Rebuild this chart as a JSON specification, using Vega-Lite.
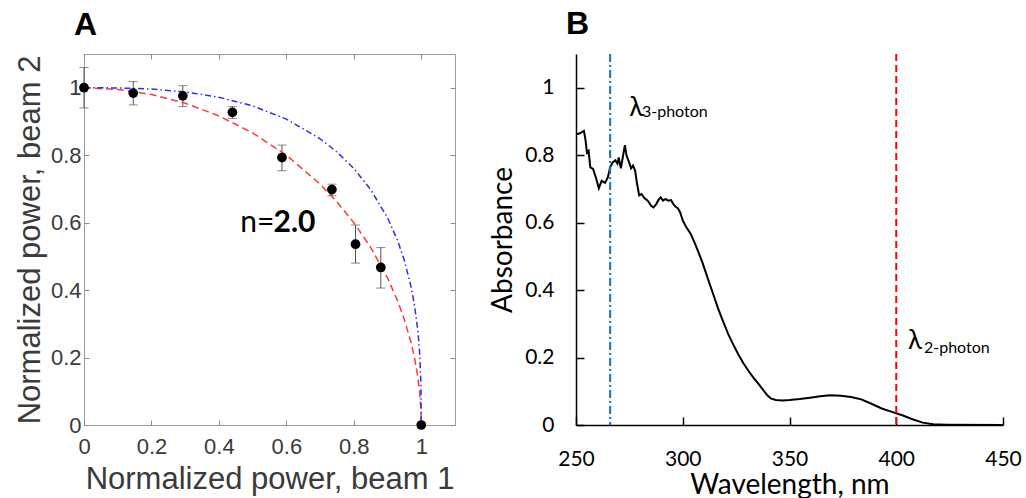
{
  "$schema": "https://vega.github.io/schema/vega-lite/v6.json",
  "background": "white",
  "padding": {"left": 13, "top": 8, "right": 5, "bottom": 0},
  "spacing": 33,
  "config": {"axis": {"grid": false}},
  "datasets": {
    "pts": [
      {"x": 0, "y": 1, "lo": 0.94, "hi": 1.06},
      {"x": 0.146, "y": 0.984, "lo": 0.949, "hi": 1.018},
      {"x": 0.293, "y": 0.976, "lo": 0.944, "hi": 1.006},
      {"x": 0.44, "y": 0.927, "lo": 0.909, "hi": 0.944},
      {"x": 0.587, "y": 0.793, "lo": 0.754, "hi": 0.83},
      {"x": 0.735, "y": 0.698, "lo": 0.68, "hi": 0.714},
      {"x": 0.805, "y": 0.536, "lo": 0.48, "hi": 0.593},
      {"x": 0.88, "y": 0.467, "lo": 0.406, "hi": 0.526},
      {"x": 1, "y": 0}
    ],
    "circ": [
      {"x": 0, "y": 1}, {"x": 0.1, "y": 0.99499}, {"x": 0.2, "y": 0.9798}, {"x": 0.3, "y": 0.95394},
      {"x": 0.4, "y": 0.91652}, {"x": 0.5, "y": 0.86603}, {"x": 0.6, "y": 0.8}, {"x": 0.7, "y": 0.71414},
      {"x": 0.75, "y": 0.66144}, {"x": 0.8, "y": 0.6}, {"x": 0.85, "y": 0.52678}, {"x": 0.9, "y": 0.43589},
      {"x": 0.93, "y": 0.36756}, {"x": 0.95, "y": 0.31225}, {"x": 0.97, "y": 0.2431}, {"x": 0.98, "y": 0.199},
      {"x": 0.99, "y": 0.14107}, {"x": 0.995, "y": 0.09987}, {"x": 0.999, "y": 0.04471}, {"x": 1, "y": 0}
    ],
    "sup": [
      {"x": 0, "y": 1}, {"x": 0.1, "y": 0.99943}, {"x": 0.2, "y": 0.99604}, {"x": 0.3, "y": 0.9876},
      {"x": 0.4, "y": 0.97183}, {"x": 0.5, "y": 0.94614}, {"x": 0.6, "y": 0.90696}, {"x": 0.7, "y": 0.84868},
      {"x": 0.75, "y": 0.80937}, {"x": 0.8, "y": 0.76053}, {"x": 0.85, "y": 0.6981}, {"x": 0.9, "y": 0.61424},
      {"x": 0.93, "y": 0.54618}, {"x": 0.95, "y": 0.48754}, {"x": 0.97, "y": 0.4089}, {"x": 0.98, "y": 0.35491},
      {"x": 0.99, "y": 0.27799}, {"x": 0.995, "y": 0.2174}, {"x": 0.999, "y": 0.12253}, {"x": 1, "y": 0}
    ],
    "abs": [
      {"w": 250, "a": 0.862}, {"w": 251.6, "a": 0.864}, {"w": 253.7, "a": 0.872}, {"w": 254.5, "a": 0.843},
      {"w": 255.1, "a": 0.808}, {"w": 255.9, "a": 0.813}, {"w": 256.7, "a": 0.764}, {"w": 258, "a": 0.759},
      {"w": 259.3, "a": 0.734}, {"w": 260.7, "a": 0.702}, {"w": 262, "a": 0.724}, {"w": 263.6, "a": 0.718},
      {"w": 264.9, "a": 0.734}, {"w": 266, "a": 0.764}, {"w": 267.1, "a": 0.778}, {"w": 268.4, "a": 0.785},
      {"w": 269.4, "a": 0.775}, {"w": 270, "a": 0.793}, {"w": 271, "a": 0.761}, {"w": 271.9, "a": 0.793},
      {"w": 272.9, "a": 0.83}, {"w": 273.7, "a": 0.798}, {"w": 274.8, "a": 0.78}, {"w": 275.8, "a": 0.761},
      {"w": 276.7, "a": 0.769}, {"w": 277.7, "a": 0.754}, {"w": 278.5, "a": 0.719}, {"w": 279.6, "a": 0.681},
      {"w": 280.7, "a": 0.685}, {"w": 282, "a": 0.673}, {"w": 283.6, "a": 0.665}, {"w": 285.2, "a": 0.65},
      {"w": 286.3, "a": 0.645}, {"w": 287.6, "a": 0.655}, {"w": 288.7, "a": 0.668}, {"w": 289.7, "a": 0.675},
      {"w": 290.8, "a": 0.665}, {"w": 291.9, "a": 0.67}, {"w": 293.2, "a": 0.665}, {"w": 294.5, "a": 0.667},
      {"w": 295.6, "a": 0.655}, {"w": 296.7, "a": 0.647}, {"w": 297.7, "a": 0.643}, {"w": 298.8, "a": 0.63},
      {"w": 300.1, "a": 0.605}, {"w": 301.7, "a": 0.586}, {"w": 303.6, "a": 0.568}, {"w": 305.2, "a": 0.546},
      {"w": 307.1, "a": 0.516}, {"w": 309.2, "a": 0.482}, {"w": 311.6, "a": 0.437}, {"w": 314, "a": 0.393},
      {"w": 316.4, "a": 0.348}, {"w": 318.8, "a": 0.309}, {"w": 321.2, "a": 0.271}, {"w": 323.6, "a": 0.239},
      {"w": 326, "a": 0.21}, {"w": 328.4, "a": 0.183}, {"w": 330.8, "a": 0.16}, {"w": 333.2, "a": 0.14},
      {"w": 335.6, "a": 0.121}, {"w": 338, "a": 0.101}, {"w": 339.6, "a": 0.088}, {"w": 341.2, "a": 0.079},
      {"w": 343.6, "a": 0.074}, {"w": 346.8, "a": 0.073}, {"w": 350, "a": 0.074}, {"w": 354.8, "a": 0.077},
      {"w": 359.6, "a": 0.081}, {"w": 364.4, "a": 0.085}, {"w": 369.2, "a": 0.088}, {"w": 374, "a": 0.087},
      {"w": 378.8, "a": 0.083}, {"w": 383.6, "a": 0.076}, {"w": 388.4, "a": 0.063}, {"w": 393.2, "a": 0.049},
      {"w": 398, "a": 0.039}, {"w": 402.8, "a": 0.029}, {"w": 407.6, "a": 0.017}, {"w": 412.4, "a": 0.007},
      {"w": 417.2, "a": 0.002}, {"w": 423.6, "a": 0.001}, {"w": 450, "a": 0}
    ]
  },
  "hconcat": [
    {
      "width": 371,
      "height": 371,
      "view": {"stroke": "#9b9b9b", "strokeWidth": 1},
      "title": {"text": "A", "anchor": "start", "frame": "group", "dx": -10, "offset": 12, "fontSize": 32, "font": "Liberation Sans", "fontWeight": "bold", "color": "black"},
      "resolve": {"axis": {"x": "independent", "y": "independent"}},
      "layer": [
        {
          "data": {"name": "pts"},
          "transform": [{"filter": "isValid(datum.lo)"}],
          "mark": {"type": "errorbar", "color": "#555555", "thickness": 1, "ticks": {"size": 9}},
          "encoding": {
            "x": {"field": "x", "type": "quantitative", "scale": {"domain": [0, 1.1], "nice": false}, "axis": null},
            "y": {"field": "lo", "type": "quantitative", "scale": {"domain": [0, 1.1], "nice": false}, "axis": null},
            "y2": {"field": "hi"}
          }
        },
        {
          "data": {"name": "circ"},
          "mark": {"type": "line", "color": "#ff3a3a", "strokeWidth": 1.5, "strokeDash": [7, 4]},
          "encoding": {
            "x": {"field": "x", "type": "quantitative", "axis": {"orient": "top", "labels": false, "title": null, "domain": false, "tickSize": -5, "tickColor": "#8c8c8c", "values": [0, 0.2, 0.4, 0.6, 0.8, 1]}},
            "y": {"field": "y", "type": "quantitative", "axis": {"orient": "right", "labels": false, "title": null, "domain": false, "tickSize": -5, "tickColor": "#8c8c8c", "values": [0, 0.2, 0.4, 0.6, 0.8, 1]}}
          }
        },
        {
          "data": {"name": "sup"},
          "mark": {"type": "line", "color": "#2b2bff", "strokeWidth": 1.5, "strokeDash": [6, 3, 1.5, 3]},
          "encoding": {
            "x": {"field": "x", "type": "quantitative", "axis": null},
            "y": {"field": "y", "type": "quantitative", "axis": null}
          }
        },
        {
          "data": {"name": "pts"},
          "mark": {"type": "point", "filled": true, "color": "black", "size": 95, "opacity": 1},
          "encoding": {
            "x": {"field": "x", "type": "quantitative", "axis": {"orient": "bottom", "values": [0, 0.2, 0.4, 0.6, 0.8, 1], "format": "~g", "labelFlush": false, "tickSize": -5, "tickColor": "#8c8c8c", "domain": false, "labelFont": "Liberation Sans", "labelFontSize": 22, "labelColor": "#3a3a3a", "labelPadding": 16, "title": "Normalized power, beam 1", "titleFont": "Liberation Sans", "titleFontSize": 31, "titleFontWeight": "normal", "titleColor": "#3a3a3a", "titlePadding": 7}},
            "y": {"field": "y", "type": "quantitative", "axis": {"orient": "left", "values": [0, 0.2, 0.4, 0.6, 0.8, 1], "format": "~g", "labelFlush": false, "tickSize": -5, "tickColor": "#8c8c8c", "domain": false, "labelFont": "Liberation Sans", "labelFontSize": 22, "labelColor": "#3a3a3a", "labelPadding": 8, "title": "Normalized power, beam 2", "titleFont": "Liberation Sans", "titleFontSize": 31, "titleFontWeight": "normal", "titleColor": "#3a3a3a", "titlePadding": 4}}
          }
        },
        {
          "data": {"values": [{"x": 0.463, "y": 0.571, "t": "n="}]},
          "mark": {"type": "text", "align": "left", "baseline": "alphabetic", "font": "Lato", "fontSize": 30, "color": "black"},
          "encoding": {
            "x": {"field": "x", "type": "quantitative", "axis": null},
            "y": {"field": "y", "type": "quantitative", "axis": null},
            "text": {"field": "t"}
          }
        },
        {
          "data": {"values": [{"x": 0.562, "y": 0.571, "t": "2.0"}]},
          "mark": {"type": "text", "align": "left", "baseline": "alphabetic", "font": "Lato", "fontSize": 30, "fontWeight": "bold", "color": "black"},
          "encoding": {
            "x": {"field": "x", "type": "quantitative", "axis": null},
            "y": {"field": "y", "type": "quantitative", "axis": null},
            "text": {"field": "t"}
          }
        }
      ]
    },
    {
      "width": 427,
      "height": 371,
      "view": {"stroke": null},
      "title": {"text": "B", "anchor": "start", "frame": "group", "dx": -10, "offset": 12, "fontSize": 32, "font": "Liberation Sans", "fontWeight": "bold", "color": "black"},
      "layer": [
        {
          "data": {"name": "abs"},
          "mark": {"type": "line", "color": "black", "strokeWidth": 2},
          "encoding": {
            "x": {"field": "w", "type": "quantitative", "scale": {"domain": [250, 450], "nice": false},
              "axis": {"values": [250, 300, 350, 400, 450], "labelFlush": false, "tickSize": -8, "tickColor": "black", "domainColor": "black", "domainWidth": 1.5, "tickWidth": 1.5, "labelFont": "Lato", "labelFontSize": 21, "labelColor": "black", "labelPadding": 31, "title": "Wavelength, nm", "titleFont": "Lato", "titleFontSize": 28, "titleFontWeight": "normal", "titleColor": "black", "titlePadding": 2}},
            "y": {"field": "a", "type": "quantitative", "scale": {"domain": [0, 1.1], "nice": false},
              "axis": {"values": [0, 0.2, 0.4, 0.6, 0.8, 1], "format": "~g", "labelFlush": false, "tickSize": -8, "tickColor": "black", "domainColor": "black", "domainWidth": 1.5, "tickWidth": 1.5, "labelFont": "Lato", "labelFontSize": 21, "labelColor": "black", "labelPadding": 30, "title": "Absorbance", "titleFont": "Lato", "titleFontSize": 28, "titleFontWeight": "normal", "titleColor": "black", "titlePadding": 7}}
          }
        },
        {
          "data": {"values": [{"w": 266}]},
          "mark": {"type": "rule", "color": "#0a72c8", "strokeWidth": 2, "strokeDash": [8, 3, 2, 3]},
          "encoding": {"x": {"field": "w", "type": "quantitative"}}
        },
        {
          "data": {"values": [{"w": 400}]},
          "mark": {"type": "rule", "color": "#ff0000", "strokeWidth": 2, "strokeDash": [7, 4]},
          "encoding": {"x": {"field": "w", "type": "quantitative"}}
        },
        {
          "data": {"values": [{"w": 274.9, "a": 0.917, "t": "λ"}, {"w": 405.5, "a": 0.2255, "t": "λ"}]},
          "mark": {"type": "text", "align": "left", "baseline": "alphabetic", "font": "Lato", "fontSize": 26, "color": "black"},
          "encoding": {
            "x": {"field": "w", "type": "quantitative"},
            "y": {"field": "a", "type": "quantitative"},
            "text": {"field": "t"}
          }
        },
        {
          "data": {"values": [{"w": 280.9, "a": 0.912, "t": "3-photon"}, {"w": 413, "a": 0.2145, "t": "2-photon"}]},
          "mark": {"type": "text", "align": "left", "baseline": "alphabetic", "font": "Lato", "fontSize": 16, "color": "black"},
          "encoding": {
            "x": {"field": "w", "type": "quantitative"},
            "y": {"field": "a", "type": "quantitative"},
            "text": {"field": "t"}
          }
        }
      ]
    }
  ]
}
